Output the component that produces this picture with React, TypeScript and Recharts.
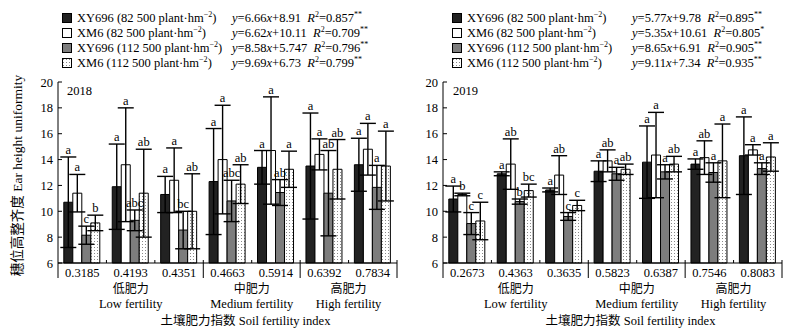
import React from "react";
import { Bar, BarChart, ErrorBar, LabelList, XAxis, YAxis } from "recharts";

const SERIF = '"Liberation Serif", "Times New Roman", serif';
const CJK = '"Noto Sans CJK SC", sans-serif';

const Y_MIN = 6;
const Y_TICKS = [6, 8, 10, 12, 14, 16, 18, 20];

// 2018
const cats2018 = ["0.3185", "0.4193", "0.4351", "0.4663", "0.5914", "0.6392", "0.7834"];
const xy82_2018 = [10.7, 11.9, 11.3, 12.3, 13.4, 13.5, 13.6];
const xy82Err2018 = [3.5, 3.3, 1.4, 4.1, 1.3, 4.1, 2.05];
const xm82_2018 = [11.4, 13.6, 12.4, 14.0, 14.7, 14.4, 14.8];
const xm82Err2018 = [1.45, 4.4, 2.5, 4.2, 4.15, 1.2, 2.0];
const xy112_2018 = [8.15, 9.3, 8.55, 10.8, 11.45, 11.4, 11.85];
const xy112Err2018 = [0.7, 0.8, 1.45, 1.6, 1.0, 3.3, 1.7];
const xm112_2018 = [9.1, 11.4, 10.0, 12.1, 13.25, 13.25, 13.5];
const xm112Err2018 = [0.6, 3.4, 2.9, 1.5, 1.4, 2.3, 2.7];
const xy82Sig2018 = ["a", "a", "a", "a", "a", "a", "a"];
const xm82Sig2018 = ["a", "a", "a", "a", "a", "a", "a"];
const xy112Sig2018 = ["c", "abc", "bc", "abc", "ab", "ab", "a"];
const xm112Sig2018 = ["b", "ab", "ab", "ab", "a", "ab", "a"];

// 2019
const cats2019 = ["0.2673", "0.4363", "0.3635", "0.5823", "0.6387", "0.7546", "0.8083"];
const xy82_2019 = [10.95, 12.9, 11.65, 13.1, 13.8, 13.65, 14.3];
const xy82Err2019 = [1.0, 0.15, 0.15, 0.8, 2.8, 0.4, 3.0];
const xm82_2019 = [11.3, 13.65, 12.8, 13.9, 14.35, 14.15, 14.75];
const xm82Err2019 = [0.1, 1.95, 1.5, 0.85, 3.3, 1.3, 0.4];
const xy112_2019 = [9.05, 10.75, 9.6, 12.9, 13.05, 13.0, 13.3];
const xy112Err2019 = [0.85, 0.2, 0.3, 0.5, 0.55, 0.75, 0.45];
const xm112_2019 = [9.25, 11.6, 10.45, 13.25, 13.65, 13.9, 14.2];
const xm112Err2019 = [1.45, 0.5, 0.4, 0.4, 0.6, 2.85, 1.1];
const xy82Sig2019 = ["a", "a", "a", "a", "a", "a", "a"];
const xm82Sig2019 = ["b", "ab", "ab", "ab", "a", "ab", "a"];
const xy112Sig2019 = ["c", "b", "c", "a", "a", "a", "a"];
const xm112Sig2019 = ["c", "bc", "c", "ab", "ab", "a", "a"];

const seriesNames = [
  "XY696 (82 500 plant·hm",
  "XM6 (82 500 plant·hm",
  "XY696 (112 500 plant·hm",
  "XM6 (112 500 plant·hm",
];
const eq2018 = [
  ["6.66", "8.91", "0.857", "**"],
  ["6.62", "10.11", "0.709", "**"],
  ["8.58", "5.747", "0.796", "**"],
  ["9.69", "6.73", "0.799", "**"],
];
const eq2019 = [
  ["5.77", "9.78", "0.895", "**"],
  ["5.35", "10.61", "0.805", "*"],
  ["8.65", "6.91", "0.905", "**"],
  ["9.11", "7.34", "0.935", "**"],
];
const fertilityGroups = [
  { cn: "低肥力", en: "Low fertility", at: 1, shift: 0 },
  { cn: "中肥力", en: "Medium fertility", at: 3, shift: 1 },
  { cn: "高肥力", en: "High fertility", at: 5, shift: 1 },
];
const groupEnds = [2, 4, 6];

const FILLS = ["#222222", "#ffffff", "#7d7d7d", "url(#dots)"];

function buildRows(cats, vals, errs, sigs) {
  return cats.map((c, i) => ({
    cat: c,
    v0: vals[0][i], e0: errs[0][i], s0: sigs[0][i],
    v1: vals[1][i], e1: errs[1][i], s1: sigs[1][i],
    v2: vals[2][i], e2: errs[2][i], s2: sigs[2][i],
    v3: vals[3][i], e3: errs[3][i], s3: sigs[3][i],
  }));
}

const makeLetter = (vals, errs) => (props) => {
  const { x, y, width, height, index, value } = props;
  const ppu = height / (vals[index] - Y_MIN);
  const top = y - errs[index] * ppu;
  return (
    <text x={x + width / 2} y={top - 3} textAnchor="middle" fontFamily={SERIF} fontSize={12.5} fill="#000">
      {value}
    </text>
  );
};

const CatTick = (props) => {
  const { x, y, payload, index } = props;
  const half = payload.offset || 24.2;
  const group = fertilityGroups.find((g) => g.at === index);
  const isEnd = groupEnds.includes(index);
  return (
    <g>
      <text x={x} y={y + 14} textAnchor="middle" fontFamily={SERIF} fontSize={12.5} fill="#000">
        {payload.value}
      </text>
      {index === 0 && <line x1={x - half} x2={x - half} y1={y} y2={y + 15} stroke="#000" />}
      {isEnd ? (
        <line x1={x + half} x2={x + half} y1={y - 3} y2={y + 15} stroke="#000" />
      ) : (
        <line x1={x + half} x2={x + half} y1={y} y2={y - 3} stroke="#000" />
      )}
      {group && (
        <g>
          <text x={x + group.shift * half} y={y + 30} textAnchor="middle" fontFamily={CJK} fontSize={12} fill="#000">
            {group.cn}
          </text>
          <text x={x + group.shift * half} y={y + 45} textAnchor="middle" fontFamily={SERIF} fontSize={12.5} fill="#000">
            {group.en}
          </text>
        </g>
      )}
    </g>
  );
};

const ValTick = (props) => {
  const { x, y, payload } = props;
  return (
    <g>
      <text x={x - 5} y={y + 4.5} textAnchor="end" fontFamily={SERIF} fontSize={12.5} fill="#000">
        {payload.value}
      </text>
      <line x1={x} x2={x + 4} y1={y} y2={y} stroke="#000" />
    </g>
  );
};

function Swatch({ i }) {
  return (
    <svg width={10} height={10} style={{ marginRight: 5, verticalAlign: "-1px" }}>
      <defs>
        <pattern id={`sw${i}`} width="3" height="3" patternUnits="userSpaceOnUse">
          <rect width="3" height="3" fill="#fff" />
          <rect x="1" y="1" width="1" height="1" fill="#888" />
        </pattern>
      </defs>
      <rect x={0.5} y={0.5} width={9} height={9} fill={i === 3 ? `url(#sw${i})` : FILLS[i]} stroke="#000" />
    </svg>
  );
}

function LegendBlock({ left, eqLeft, eqs }) {
  return (
    <div style={{ position: "absolute", top: 11, left, fontFamily: SERIF, fontSize: 12.5, lineHeight: "15px", color: "#000" }}>
      {seriesNames.map((n, i) => (
        <div key={n} style={{ position: "relative", height: 15, whiteSpace: "nowrap" }}>
          <Swatch i={i} />
          {n}
          <sup style={{ fontSize: 8, lineHeight: 0 }}>−2</sup>)
          <span style={{ position: "absolute", left: eqLeft }}>
            <i>y</i>={eqs[i][0]}<i>x</i>+{eqs[i][1]}&nbsp;&nbsp;<i>R</i>
            <sup style={{ fontSize: 8, lineHeight: 0 }}>2</sup>={eqs[i][2]}
            <sup style={{ fontSize: 8, lineHeight: 0 }}>{eqs[i][3]}</sup>
          </span>
        </div>
      ))}
    </div>
  );
}

function Panel({ rows, vals, errs, width, marginLeft, marginRight, showYLabel }) {
  return (
    <BarChart
      width={width}
      height={331}
      data={rows}
      margin={{ top: 82, right: marginRight, bottom: 0, left: marginLeft }}
      barCategoryGap="12%"
      barGap={0}
    >
      <defs>
        <pattern id="dots" width="3" height="3" patternUnits="userSpaceOnUse">
          <rect width="3" height="3" fill="#fff" />
          <rect x="1" y="1" width="1" height="1" fill="#8a8a8a" />
        </pattern>
      </defs>
      <XAxis
        dataKey="cat"
        height={68}
        tickLine={false}
        tickSize={0}
        tickMargin={0}
        axisLine={{ stroke: "#000" }}
        tick={CatTick}
        interval={0}
        label={{
          value: "土壤肥力指数 Soil fertility index",
          position: "insideBottom",
          offset: 6,
          dx: 18,
          style: { fontFamily: `${SERIF}, ${CJK}`, fontSize: 12.5, fill: "#000" },
        }}
      />
      <YAxis
        width={30}
        domain={[Y_MIN, 20]}
        ticks={Y_TICKS}
        tickLine={false}
        tickSize={0}
        tickMargin={0}
        axisLine={{ stroke: "#000" }}
        tick={ValTick}
        label={
          showYLabel
            ? (p) => {
                const vb = p.viewBox;
                const cx = vb.x - 6;
                const cy = vb.y + vb.height / 2 + 3;
                return (
                  <text x={cx} y={cy} transform={`rotate(-90 ${cx} ${cy})`} textAnchor="middle" fontFamily={`${SERIF}, ${CJK}`} fontSize={13.5} fill="#000">
                    穗位高整齐度 Ear height uniformity
                  </text>
                );
              }
            : undefined
        }
      />
      {[0, 1, 2, 3].map((k) => (
        <Bar key={k} dataKey={`v${k}`} fill={FILLS[k]} stroke="#000" strokeWidth={1} isAnimationActive={false}>
          <ErrorBar dataKey={`e${k}`} width={8} stroke="#000" strokeWidth={1.4} direction="y" />
          <LabelList dataKey={`s${k}`} content={makeLetter(vals[k], errs[k])} />
        </Bar>
      ))}
    </BarChart>
  );
}

const vals2018 = [xy82_2018, xm82_2018, xy112_2018, xm112_2018];
const errs2018 = [xy82Err2018, xm82Err2018, xy112Err2018, xm112Err2018];
const sigs2018 = [xy82Sig2018, xm82Sig2018, xy112Sig2018, xm112Sig2018];
const vals2019 = [xy82_2019, xm82_2019, xy112_2019, xm112_2019];
const errs2019 = [xy82Err2019, xm82Err2019, xy112Err2019, xm112Err2019];
const sigs2019 = [xy82Sig2019, xm82Sig2019, xy112Sig2019, xm112Sig2019];

export default function App() {
  const rows2018 = buildRows(cats2018, vals2018, errs2018, sigs2018);
  const rows2019 = buildRows(cats2019, vals2019, errs2019, sigs2019);
  return (
    <div style={{ position: "absolute", left: 0, top: 0, width: 801, height: 331, background: "#fff", overflow: "hidden" }}>
      <div style={{ position: "absolute", left: 0, top: 0 }}>
        <Panel rows={rows2018} vals={vals2018} errs={errs2018} width={400} marginLeft={28} marginRight={3} showYLabel />
      </div>
      <div style={{ position: "absolute", left: 400, top: 0 }}>
        <Panel rows={rows2019} vals={vals2019} errs={errs2019} width={401} marginLeft={13} marginRight={19} showYLabel={false} />
      </div>
      <LegendBlock left={62} eqLeft={170} eqs={eq2018} />
      <LegendBlock left={452} eqLeft={180} eqs={eq2019} />
      <div style={{ position: "absolute", left: 67, top: 84, fontFamily: SERIF, fontSize: 12.5 }}>2018</div>
      <div style={{ position: "absolute", left: 453, top: 84, fontFamily: SERIF, fontSize: 12.5 }}>2019</div>
    </div>
  );
}
